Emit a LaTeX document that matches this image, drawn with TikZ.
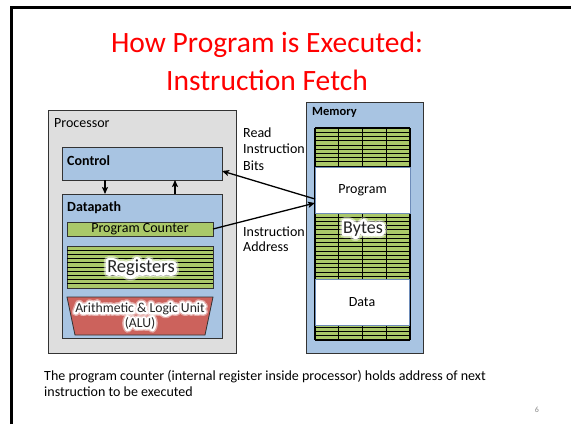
\documentclass[tikz,border=0pt]{standalone}
\usepackage{fontspec}
\setmainfont{Carlito}
% heavily emboldened faces, used in white as a soft halo behind labels
\newfontfamily\halofont[FakeBold=32]{Carlito}
\newfontfamily\haloouterfont[FakeBold=52]{Carlito}
\usetikzlibrary{arrows.meta,calc}

\definecolor{procgray}{RGB}{222,222,222}
\definecolor{panelblue}{RGB}{168,196,226}
\definecolor{cellgreen}{RGB}{170,200,105}
\definecolor{alured}{RGB}{204,98,92}
\definecolor{titlered}{RGB}{255,0,0}
\definecolor{boxedge}{RGB}{110,140,185}

% text with a white halo behind it (round joins keep the halo smooth)
\newcommand\glowlabel[4]{%
  \node[font=#3\haloouterfont, text=white, text opacity=0.45, line join=round, align=center] at (#2) {#4};
  \node[font=#3\halofont, text=white, line join=round, align=center] at (#2) {#4};
  \node[font=#3, align=center, text=black!85] (#1) at (#2) {#4};
}

\begin{document}
\begin{tikzpicture}[x=1pt,y=-1pt,
  box/.style={draw=black!80, line width=0.8pt, inner sep=0pt, outer sep=0pt, anchor=north west},
  procbox/.style={box, fill=procgray},
  bluebox/.style={box, fill=panelblue},
  greenbox/.style={box, fill=cellgreen},
  whitebox/.style={draw=boxedge, line width=0.7pt, fill=white, inner sep=0pt, outer sep=0pt, anchor=north west},
  lbl/.style={font=\fontsize{14}{16}\selectfont, inner sep=0pt, anchor=base west},
  boldlbl/.style={lbl, font=\fontsize{14}{16}\selectfont\bfseries},
  arr/.style={line width=1.3pt, -{Stealth[length=7pt,width=6pt,inset=1.5pt]}},
  stripe/.style={line width=0.9pt, black}
]
\useasboundingbox (0,0) rectangle (571,424);
\fill[white] (0,0) rectangle (571,424);

% slide frame
\draw[line width=2.8pt] (11.3,424) -- (11.3,7.2) -- (571,7.2);

% title
\node[font=\fontsize{29.5}{38}\selectfont, text=titlered, inner sep=0pt, anchor=base] (title1) at (267,52) {How Program is Executed:};
\node[font=\fontsize{29.5}{38}\selectfont, text=titlered, inner sep=0pt, anchor=base] (title2) at (267,90) {Instruction Fetch};

% processor
\node[procbox, minimum width=188pt, minimum height=243pt] (proc) at (48,110) {};
\node[lbl] (proclbl) at (54,127) {Processor};

\node[bluebox, minimum width=160pt, minimum height=33pt] (control) at (62,147) {};
\node[boldlbl] (ctrllbl) at (67,165) {Control};

\node[bluebox, minimum width=160pt, minimum height=144pt] (datapath) at (62,194) {};
\node[boldlbl] (dplbl) at (67,211) {Datapath};

\node[greenbox, minimum width=146pt, minimum height=14pt, font=\fontsize{14}{15}\selectfont] (pc) at (67,222) {Program Counter};

% register file
\node[greenbox, minimum width=146pt, minimum height=42pt] (regs) at (67,246) {};
\foreach \i in {1,...,9}
  \draw[stripe] (67,{246+4.2*\i}) -- (213,{246+4.2*\i});
\glowlabel{regslbl}{141,268}{\fontsize{18.5}{20}\selectfont}{Registers}

% ALU
\draw[draw=black!80, line width=0.8pt, fill=alured] (67,297) -- (213,297) -- (205,335) -- (75,335) -- cycle;
\glowlabel{alulbl}{140,316}{\fontsize{13.7}{15}\selectfont}{Arithmetic \& Logic Unit\\(ALU)}

% control <-> datapath
\draw[arr] ([xshift=-37pt]control.south) -- ([xshift=-37pt]datapath.north);
\draw[arr] ([xshift=33pt]datapath.north) -- ([xshift=33pt]control.south);

% memory
\node[bluebox, minimum width=117pt, minimum height=251pt] (mem) at (306,102) {};
\node[boldlbl, font=\fontsize{12.5}{15}\selectfont\bfseries] (memlbl) at (312,115) {Memory};

\fill[cellgreen] (315,128) rectangle (410,340);
\foreach \i in {1,...,49}
  \draw[stripe] (315,{128+4.24*\i}) -- (410,{128+4.24*\i});
\foreach \x in {315,338.75,362.5,386.25,410}
  \draw[line width=1.2pt] (\x,128) -- (\x,340);
\draw[line width=1.2pt] (315,128) -- (410,128);
\draw[line width=1.2pt] (315,340) -- (410,340);

\node[whitebox, minimum width=95pt, minimum height=46pt, font=\fontsize{14}{15}\selectfont] (prog) at (315,167) {Program};
\node[whitebox, minimum width=94pt, minimum height=46pt, font=\fontsize{14}{15}\selectfont] (data) at (315,279) {Data};
\glowlabel{byteslbl}{363,229}{\fontsize{18}{20}\selectfont}{Bytes}

% fetch connectors
\draw[arr] ([yshift=-9pt]prog.west) -- ([yshift=-7.5pt]control.east);
\draw[arr] (pc.east) -- ([yshift=-13pt]prog.west);

\node[lbl] (rd1) at (243,137) {Read};
\node[lbl] (rd2) at (243,153) {Instruction};
\node[lbl] (rd3) at (243,170) {Bits};
\node[lbl] (ad1) at (243,236) {Instruction};
\node[lbl] (ad2) at (243,251) {Address};

% caption
\node[lbl] (cap1) at (44,380) {The program counter (internal register inside processor) holds address of next};
\node[lbl] (cap2) at (44,396) {instruction to be executed};

\node[font=\fontsize{8}{10}\selectfont, text=black!45, inner sep=0pt] (pgno) at (537,410) {6};
\end{tikzpicture}
\end{document}
